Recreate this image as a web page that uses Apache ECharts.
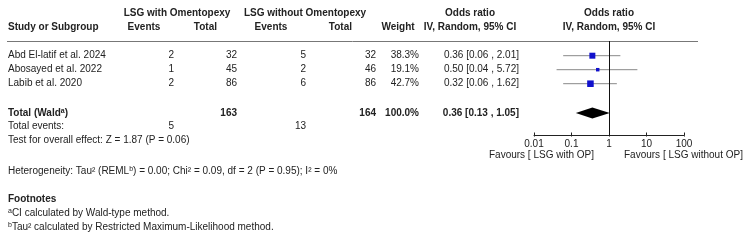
<!DOCTYPE html>
<html>
<head>
<meta charset="utf-8">
<script src="https://cdn.jsdelivr.net/npm/echarts@6/dist/echarts.min.js"></script>
<style>
  html, body { margin: 0; padding: 0; background: #fff; }
  #chart { width: 750px; height: 244px; }
</style>
</head>
<body>
<div id="chart"></div>
<script>
// study rows
var studies = ['Abd El-latif et al. 2024', 'Abosayed et al. 2022', 'Labib et al. 2020'];
var eventsWith = [2, 1, 2];
var totalWith = [32, 45, 86];
var eventsWithout = [5, 2, 6];
var totalWithout = [32, 46, 86];
var weights = [38.3, 19.1, 42.7];
var orEst = [0.36, 0.50, 0.32];
var ciLow = [0.06, 0.04, 0.06];
var ciHigh = [2.01, 5.72, 1.62];

// pooled row
var pooled = [0.36, 0.13, 1.05];   // estimate, low, high
var pooledTotals = [163, 164];
var pooledEvents = [5, 13];
var pooledWeight = '100.0%';

var tickLabels = ['0.01', '0.1', '1', '10', '100'];

var FONT = '"Liberation Sans", Arial, sans-serif';
var COLOR = '#222';
var ROW0 = 55.7, ROWH = 14;

function fmt(v) { return v.toFixed(2); }
function ciText(e, l, h) { return fmt(e) + ' [' + fmt(l) + ' , ' + fmt(h) + ']'; }

function txt(x, y, s, align, bold, rich) {
    return {
        type: 'text', x: x, y: y, silent: true,
        style: {
            text: s, fill: COLOR, font: (bold ? 'bold ' : '') + '10px ' + FONT,
            textAlign: align || 'left', textVerticalAlign: 'middle',
            rich: rich
        }
    };
}
var supRich = {
    sup: { fontSize: 7, fontFamily: FONT, fill: COLOR, verticalAlign: 'top', lineHeight: 11 }
};
var supRichBold = {
    sup: { fontSize: 7, fontFamily: FONT, fill: COLOR, fontWeight: 'bold', verticalAlign: 'top', lineHeight: 11 }
};

var graphics = [];
// headers
graphics.push(txt(177, 13.5, 'LSG with Omentopexy', 'center', true));
graphics.push(txt(305, 13.5, 'LSG without Omentopexy', 'center', true));
graphics.push(txt(470, 13.5, 'Odds ratio', 'center', true));
graphics.push(txt(609, 13.5, 'Odds ratio', 'center', true));
graphics.push(txt(8, 27, 'Study or Subgroup', 'left', true));
graphics.push(txt(144, 27, 'Events', 'center', true));
graphics.push(txt(217, 27, 'Total', 'right', true));
graphics.push(txt(271, 27, 'Events', 'center', true));
graphics.push(txt(352, 27, 'Total', 'right', true));
graphics.push(txt(398, 27, 'Weight', 'center', true));
graphics.push(txt(470, 27, 'IV, Random, 95% CI', 'center', true));
graphics.push(txt(609, 27, 'IV, Random, 95% CI', 'center', true));
graphics.push({
    type: 'line', silent: true,
    shape: { x1: 7, y1: 41.5, x2: 698, y2: 41.5 },
    style: { stroke: '#777', lineWidth: 1 }
});

// study rows
studies.forEach(function (s, i) {
    var y = ROW0 + ROWH * i;
    graphics.push(txt(8, y, s, 'left'));
    graphics.push(txt(174, y, String(eventsWith[i]), 'right'));
    graphics.push(txt(237, y, String(totalWith[i]), 'right'));
    graphics.push(txt(306, y, String(eventsWithout[i]), 'right'));
    graphics.push(txt(376, y, String(totalWithout[i]), 'right'));
    graphics.push(txt(419, y, weights[i].toFixed(1) + '%', 'right'));
    graphics.push(txt(519, y, ciText(orEst[i], ciLow[i], ciHigh[i]), 'right'));
});

// total rows
var yT = 112.8;
graphics.push(txt(8, yT, 'Total (Wald{sup|a})', 'left', true, supRichBold));
graphics.push(txt(237, yT, String(pooledTotals[0]), 'right', true));
graphics.push(txt(376, yT, String(pooledTotals[1]), 'right', true));
graphics.push(txt(419, yT, pooledWeight, 'right', true));
graphics.push(txt(519, yT, ciText(pooled[0], pooled[1], pooled[2]), 'right', true));
graphics.push(txt(8, 126.5, 'Total events:', 'left'));
graphics.push(txt(174, 126.5, String(pooledEvents[0]), 'right'));
graphics.push(txt(306, 126.5, String(pooledEvents[1]), 'right'));
graphics.push(txt(8, 140, 'Test for overall effect: Z = 1.87 (P = 0.06)', 'left'));
graphics.push(txt(8, 171, 'Heterogeneity: Tau\u00b2 (REML{sup|b}) = 0.00; Chi\u00b2 = 0.09, df = 2 (P = 0.95); I\u00b2 = 0%', 'left', false, supRich));
graphics.push(txt(8, 199, 'Footnotes', 'left', true));
graphics.push(txt(8, 213, '{sup|a}CI calculated by Wald-type method.', 'left', false, supRich));
graphics.push(txt(8, 227, '{sup|b}Tau\u00b2 calculated by Restricted Maximum-Likelihood method.', 'left', false, supRich));

// favours labels
graphics.push(txt(594, 155.5, 'Favours [ LSG with OP]', 'right'));
graphics.push(txt(624, 155.5, 'Favours [ LSG without OP]', 'left'));

var ciData = studies.map(function (s, i) { return [ciLow[i], ciHigh[i], i]; });
var pointData = studies.map(function (s, i) { return [orEst[i], i, weights[i]]; });

var myChart = echarts.init(document.getElementById('chart'), null, { renderer: 'canvas' });
var option = {
    animation: false,
    textStyle: { fontFamily: FONT },
    grid: { left: 534, width: 150, top: 41, height: 94.5 },
    xAxis: [{
        type: 'log', logBase: 10, min: 0.01, max: 100,
        axisLine: { onZero: false, lineStyle: { color: '#222', width: 1 } },
        axisTick: { show: true, length: 1, lineStyle: { color: '#222' } },
        axisLabel: {
            color: COLOR, fontSize: 10, fontFamily: FONT, margin: 4,
            formatter: function (v) {
                var k = Math.round(Math.log10(v)) + 2;
                return tickLabels[k] !== undefined ? tickLabels[k] : '';
            }
        },
        splitLine: { show: false }
    }, {
        type: 'log', logBase: 10, min: 0.01, max: 100, position: 'bottom',
        axisLine: { show: false, onZero: false },
        axisTick: { show: true, inside: true, length: 3, lineStyle: { color: '#222' } },
        axisLabel: { show: false },
        splitLine: { show: false }
    }],
    yAxis: {
        type: 'value', inverse: true, min: -1.05, max: 5.7, show: false,
        axisLine: { onZero: false }
    },
    series: [{
        type: 'custom',
        data: ciData,
        encode: { x: [0, 1], y: 2 },
        renderItem: function (params, api) {
            var a = api.coord([api.value(0), api.value(2)]);
            var b = api.coord([api.value(1), api.value(2)]);
            return {
                type: 'line',
                shape: { x1: a[0], y1: a[1], x2: b[0], y2: b[1] },
                style: { stroke: '#888', lineWidth: 1 }
            };
        },
        z: 2
    }, {
        type: 'scatter',
        data: pointData,
        symbol: 'rect',
        symbolSize: function (d) { return 1 + d[2] * 0.13; },
        itemStyle: { color: '#1010cc', opacity: 1 },
        z: 3,
        markLine: {
            silent: true, symbol: 'none', label: { show: false },
            lineStyle: { color: '#111', width: 1, type: 'solid' },
            data: [{ xAxis: 1 }]
        }
    }, {
        type: 'custom',
        data: [[pooled[0], pooled[1], pooled[2], 4.1]],
        encode: { x: [0, 1, 2], y: 3 },
        renderItem: function (params, api) {
            var y = api.value(3);
            var l = api.coord([api.value(1), y]);
            var h = api.coord([api.value(2), y]);
            var e = api.coord([api.value(0), y]);
            return {
                type: 'polygon',
                shape: { points: [[l[0], l[1]], [e[0], e[1] - 5.5], [h[0], h[1]], [e[0], e[1] + 5.5]] },
                style: { fill: '#000' }
            };
        },
        z: 3
    }],
    graphic: graphics
};
myChart.setOption(option);
</script>
</body>
</html>
